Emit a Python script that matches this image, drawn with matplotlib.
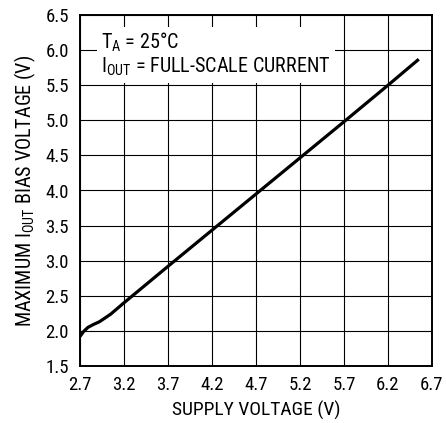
import numpy as np
import matplotlib
matplotlib.use("Agg")
import matplotlib.pyplot as plt

# Maximum I_OUT bias voltage vs. supply voltage, T_A = 25 C
supply_v = [2.70, 2.74, 2.79, 2.85, 2.92, 2.98, 3.05, 3.19, 3.70, 4.70, 5.70, 6.20, 6.55]
bias_v = [1.92, 1.99, 2.05, 2.09, 2.13, 2.18, 2.24, 2.39, 2.92, 3.95, 4.98, 5.50, 5.87]

x_ticks = [2.7, 3.2, 3.7, 4.2, 4.7, 5.2, 5.7, 6.2, 6.7]
y_ticks = [1.5, 2.0, 2.5, 3.0, 3.5, 4.0, 4.5, 5.0, 5.5, 6.0, 6.5]

FONT = ["Roboto Condensed", "Archivo Narrow", "DejaVu Sans"]

plt.rcParams["font.family"] = FONT
plt.rcParams["mathtext.fontset"] = "custom"
plt.rcParams["mathtext.rm"] = FONT[0]
plt.rcParams["mathtext.it"] = FONT[0]
plt.rcParams["mathtext.default"] = "rm"


def main() -> int:
    fig = plt.figure(figsize=(4.46, 4.23), dpi=100)
    ax = fig.add_axes([80 / 446, 57 / 423, 352 / 446, 351 / 423])

    ax.plot(supply_v, bias_v, color="black", linewidth=2.3,
            solid_capstyle="butt", zorder=3)

    ax.set_xlim(2.7, 6.7)
    ax.set_ylim(1.5, 6.5)
    ax.set_xticks(x_ticks)
    ax.set_yticks(y_ticks)
    ax.set_xticklabels([f"{v:.1f}" for v in x_ticks])
    ax.set_yticklabels([f"{v:.1f}" for v in y_ticks])
    ax.tick_params(length=0, labelsize=13.5, colors="black")
    ax.tick_params(axis="x", pad=7)
    ax.tick_params(axis="y", pad=8)

    ax.grid(True, color="black", linewidth=0.8)
    ax.set_axisbelow(True)
    for spine in ax.spines.values():
        spine.set_linewidth(1.4)

    ax.set_xlabel("SUPPLY VOLTAGE (V)", fontsize=14, labelpad=5)
    ax.set_ylabel(r"MAXIMUM I$_{\mathregular{OUT}}$ BIAS VOLTAGE (V)",
                  fontsize=14.5, labelpad=5)

    ax.text(2.94, 6.27,
            "T$_{\\mathregular{A}}$ = 25°C\n"
            "I$_{\\mathregular{OUT}}$ = FULL-SCALE CURRENT",
            fontsize=14.5, va="top", ha="left", linespacing=1.1, zorder=4,
            bbox=dict(facecolor="white", edgecolor="none", pad=3))

    fig.savefig("out.png", dpi=100)
    return 0


if __name__ == "__main__":
    main()
